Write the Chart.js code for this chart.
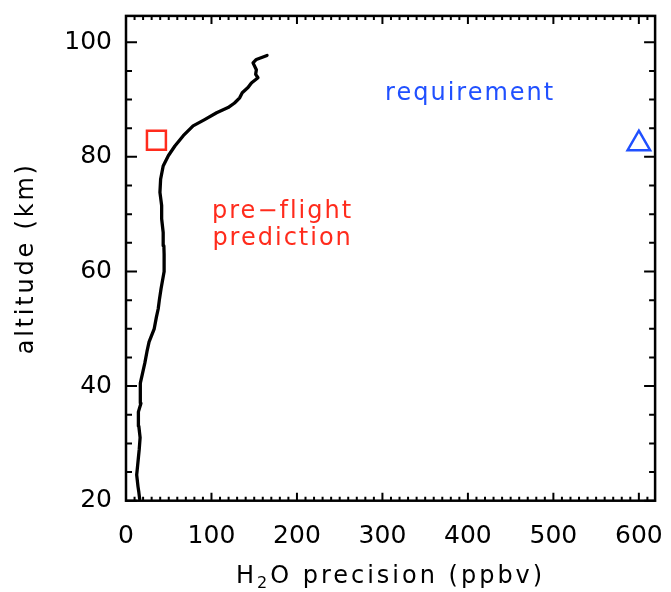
<!DOCTYPE html>
<html>
<head>
<meta charset="utf-8">
<script src="https://cdn.jsdelivr.net/npm/chart.js@4.4.1/dist/chart.umd.min.js"></script>
<style>
    html, body { margin: 0; padding: 0; background: #fff; }
</style>
</head>
<body>
<canvas id="graficaPerfil" width="671" height="592"></canvas>
<script>
// Perfil de precision de H2O frente a la altitud

// Altitudes del perfil (km), de abajo hacia arriba
const altitudes = [20.3, 21.5, 22.5, 24.5, 26, 27.5, 29, 31, 33, 35.5, 37, 38.5, 40.5, 42, 44, 46,
    47.7, 50, 52, 53.5, 55, 57, 59.9, 61, 63, 64.5, 66.8, 69.2, 71.5, 73.8, 76.1, 78.4, 80.2,
    81.9, 83.7, 85.4, 86.5, 87.7, 88.6, 89.4, 90.3, 91.2, 92.1, 92.9, 93.8, 94.4, 95.2, 96.4, 97, 97.7];
// Precision estimada en cada altitud (ppbv)
const precision = [16, 15, 14, 12.5, 13.5, 14.5, 15.5, 16.5, 15, 14.5, 17.5, 17, 16.5, 19, 22, 24.5,
    27, 33, 35.5, 37.7, 39, 41, 44.5, 44.7, 44.5, 44.3, 43.5, 41.7, 41.7, 39.7, 40.5, 43.5, 49.5,
    57.2, 67, 78.5, 92, 106, 119.4, 127, 133, 136, 142.7, 146.7, 154.4, 151.7, 152.5, 148.6, 152.5, 165];

// Punto de la prediccion previa al vuelo y punto del requisito
const prediccionX = [35.6];
const prediccionY = [82.9];
const requisitoX = [600];
const requisitoY = [82.3];

// Etiquetas de los ejes
const ticksX = [0, 100, 200, 300, 400, 500, 600];
const ticksY = [20, 40, 60, 80, 100];

const ROJO = '#ff2b1c';
const AZUL = '#2050ff';
const FUENTE = '"DejaVu Sans", sans-serif';

// Textos anotados sobre la grafica, anclados en unidades de datos
const anotaciones = [
    { texto: 'requirement', x: 402.6, y: 90, color: AZUL },
    { texto: 'pre\u2212flight', x: 183.2, y: 69.4, color: ROJO },
    { texto: 'prediction', x: 183.2, y: 64.6, color: ROJO }
];

// Sin margenes extra por etiquetas que sobresalen: el area la fija layout.padding
function sinRelleno(s) {
    s.paddingTop = 0;
    s.paddingBottom = 0;
    s.paddingLeft = 0;
    s.paddingRight = 0;
}

// Marco completo con marcas hacia dentro, titulos y anotaciones
const marcoPlugin = {
    id: 'marco',
    afterDraw(chart) {
        const { ctx, chartArea: a, scales: { x, y } } = chart;
        ctx.save();
        ctx.strokeStyle = '#000';
        ctx.lineWidth = 2.5;
        ctx.strokeRect(a.left, a.top, a.right - a.left, a.bottom - a.top);

        ctx.lineWidth = 2;
        ctx.beginPath();
        for (let v = 0; v <= x.max; v += 10) {
            const px = x.getPixelForValue(v);
            const largo = v % 100 === 0 ? 8 : 4;
            ctx.moveTo(px, a.bottom); ctx.lineTo(px, a.bottom - largo);
            ctx.moveTo(px, a.top); ctx.lineTo(px, a.top + largo);
        }
        for (let v = 20; v <= y.max; v += 5) {
            const py = y.getPixelForValue(v);
            const largo = v % 20 === 0 ? 11 : 6;
            ctx.moveTo(a.left, py); ctx.lineTo(a.left + largo, py);
            ctx.moveTo(a.right, py); ctx.lineTo(a.right - largo, py);
        }
        ctx.stroke();

        // Anotaciones de color
        ctx.textAlign = 'center';
        ctx.textBaseline = 'alphabetic';
        ctx.font = '24px ' + FUENTE;
        ctx.letterSpacing = '2px';
        anotaciones.forEach(n => {
            ctx.fillStyle = n.color;
            ctx.fillText(n.texto, x.getPixelForValue(n.x), y.getPixelForValue(n.y));
        });

        // Titulo del eje X con subindice
        ctx.fillStyle = '#000';
        ctx.textAlign = 'left';
        ctx.letterSpacing = '3px';
        const grande = '24px ' + FUENTE;
        const chico = '16px ' + FUENTE;
        ctx.font = grande;
        const w1 = ctx.measureText('H').width;
        const w3 = ctx.measureText('O precision (ppbv)').width;
        ctx.font = chico;
        const w2 = ctx.measureText('2').width;
        const cx = (a.left + a.right) / 2;
        let inicio = cx - (w1 + w2 + w3) / 2;
        const base = 583;
        ctx.font = grande;
        ctx.fillText('H', inicio, base);
        ctx.font = chico;
        ctx.fillText('2', inicio + w1, base + 5);
        ctx.font = grande;
        ctx.fillText('O precision (ppbv)', inicio + w1 + w2, base);

        // Titulo del eje Y
        ctx.letterSpacing = '2.8px';
        ctx.translate(33, (a.top + a.bottom) / 2);
        ctx.rotate(-Math.PI / 2);
        ctx.textAlign = 'center';
        ctx.fillText('altitude (km)', 0, 0);
        ctx.restore();
    }
};

const perfil = altitudes.map((alt, i) => ({ x: precision[i], y: alt }));

new Chart(document.getElementById('graficaPerfil'), {
    type: 'scatter',
    data: {
        datasets: [
            {
                data: perfil,
                showLine: true,
                borderColor: '#000',
                borderWidth: 3.3,
                borderJoinStyle: 'round',
                borderCapStyle: 'round',
                pointRadius: 0,
                tension: 0
            },
            {
                data: prediccionX.map((v, i) => ({ x: v, y: prediccionY[i] })),
                pointStyle: 'rect',
                pointRadius: 13.4,
                borderColor: ROJO,
                borderWidth: 2.5,
                backgroundColor: 'rgba(0,0,0,0)'
            },
            {
                data: requisitoX.map((v, i) => ({ x: v, y: requisitoY[i] })),
                pointStyle: 'triangle',
                pointRadius: 13,
                borderColor: AZUL,
                borderWidth: 2.5,
                backgroundColor: 'rgba(0,0,0,0)'
            }
        ]
    },
    options: {
        responsive: false,
        devicePixelRatio: 1,
        animation: false,
        layout: { padding: { top: 12.7, right: 14, left: 0, bottom: 0 } },
        plugins: { legend: { display: false }, tooltip: { enabled: false } },
        scales: {
            x: {
                type: 'linear',
                min: 0,
                max: 619,
                grid: { display: false, drawTicks: false },
                border: { display: false },
                ticks: { color: '#000', font: { family: FUENTE, size: 25 }, padding: 21 },
                afterBuildTicks: s => { s.ticks = ticksX.map(v => ({ value: v })); },
                afterFit: s => { s.height = 91.3; sinRelleno(s); }
            },
            y: {
                type: 'linear',
                min: 20,
                max: 104.6,
                grid: { display: false, drawTicks: false },
                border: { display: false },
                ticks: { color: '#000', font: { family: FUENTE, size: 25 }, padding: 14 },
                afterBuildTicks: s => { s.ticks = ticksY.map(v => ({ value: v })); },
                afterFit: s => { s.width = 126; sinRelleno(s); }
            }
        }
    },
    plugins: [marcoPlugin]
});
</script>
</body>
</html>
